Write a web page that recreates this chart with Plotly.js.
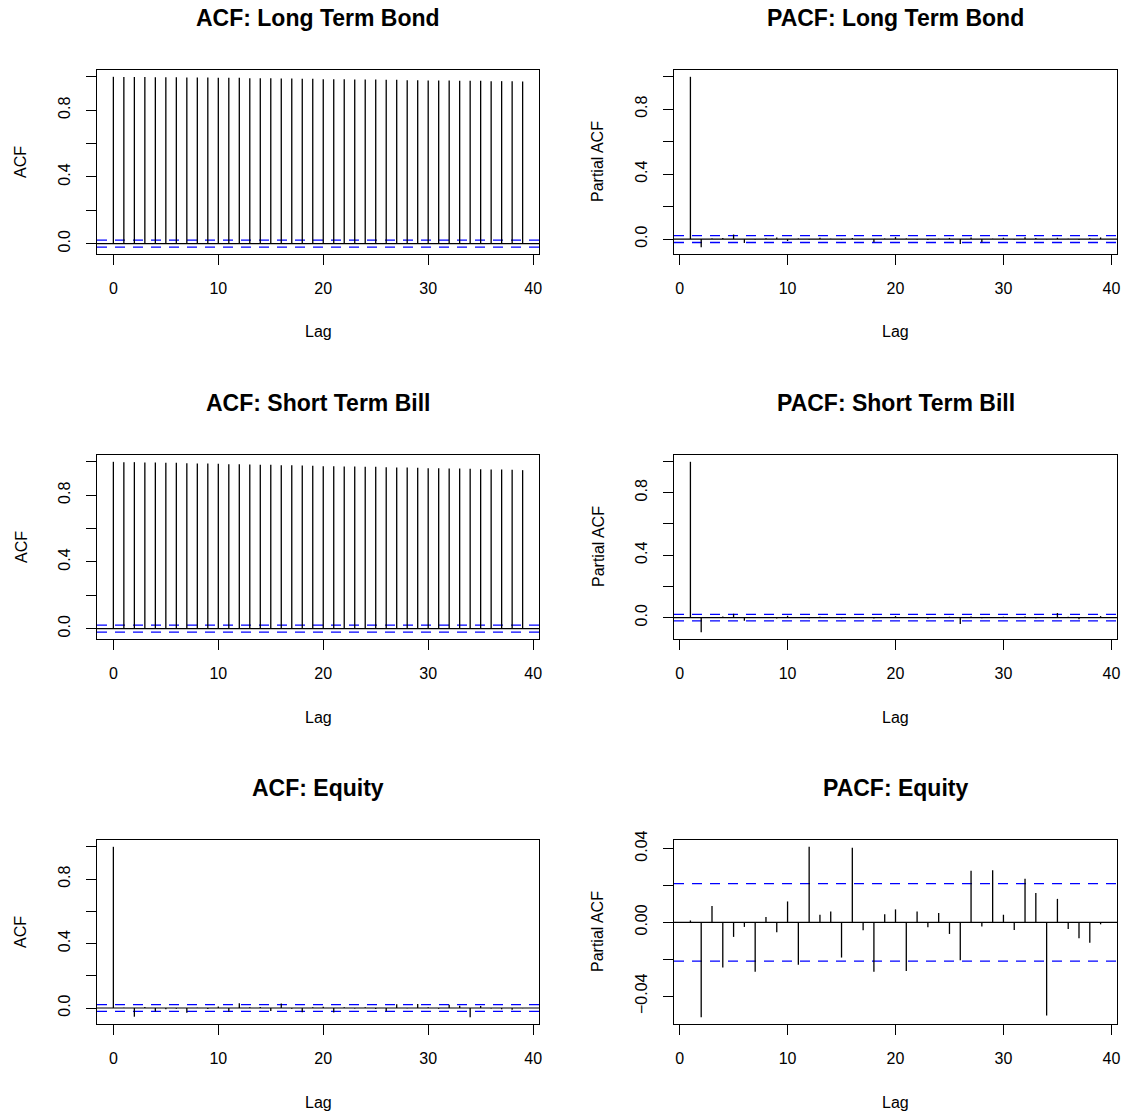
<!DOCTYPE html>
<html>
<head>
<meta charset="utf-8">
<script src="https://cdn.plot.ly/plotly-3.0.1.min.js"></script>
<style>
  html, body { margin: 0; padding: 0; background: #fff; }
  #chart { width: 1128px; height: 1115px; }
</style>
</head>
<body>
<div id="chart"></div>
<script>
// ---------------- DATA ----------------
const panelTitles = [
  "ACF: Long Term Bond", "PACF: Long Term Bond",
  "ACF: Short Term Bill", "PACF: Short Term Bill",
  "ACF: Equity", "PACF: Equity"
];
const yTitles = ["ACF", "Partial ACF", "ACF", "Partial ACF", "ACF", "Partial ACF"];
const xTitle = "Lag";

const acfLags = [0,1,2,3,4,5,6,7,8,9,10,11,12,13,14,15,16,17,18,19,20,21,22,23,24,25,26,27,28,29,30,31,32,33,34,35,36,37,38,39];
const pacfLags = [1,2,3,4,5,6,7,8,9,10,11,12,13,14,15,16,17,18,19,20,21,22,23,24,25,26,27,28,29,30,31,32,33,34,35,36,37,38,39];

const acfLongBond = [1.000,0.999,0.999,0.999,0.998,0.998,0.998,0.996,0.996,0.996,
  0.995,0.994,0.994,0.992,0.992,0.992,0.990,0.990,0.988,0.988,
  0.986,0.986,0.986,0.984,0.984,0.984,0.982,0.982,0.980,0.980,
  0.978,0.978,0.978,0.976,0.976,0.976,0.974,0.974,0.974,0.972];
const pacfLongBond = [0.999,-0.050,0.004,0.006,0.028,-0.024,-0.003,0.005,0.010,-0.012,
  0.003,-0.002,0.008,0.002,-0.004,0.006,0.001,-0.020,0.003,0.012,
  0.004,-0.002,-0.006,0.002,0.007,-0.030,0.010,-0.020,0.002,0.008,
  -0.003,0.011,0.006,-0.002,0.008,0.002,-0.004,0.005,0.010];

const acfShortBill = [1.000,0.998,0.998,0.996,0.996,0.994,0.994,0.992,0.990,0.990,
  0.988,0.986,0.986,0.984,0.982,0.982,0.980,0.980,0.978,0.976,
  0.974,0.974,0.972,0.972,0.970,0.970,0.968,0.966,0.966,0.964,
  0.962,0.962,0.960,0.960,0.958,0.956,0.954,0.954,0.952,0.950];
const pacfShortBill = [0.998,-0.093,0.005,0.008,0.025,-0.020,-0.002,0.004,-0.006,0.012,
  0.004,-0.003,0.006,0.002,-0.004,0.005,0.002,-0.006,0.003,0.010,
  0.004,-0.002,-0.005,0.002,0.006,-0.040,0.008,-0.004,0.003,0.006,
  -0.002,0.007,-0.003,0.004,0.030,0.006,-0.010,0.003,0.010];

const acfEquity = [1.000,0.001,-0.054,0.006,-0.022,-0.008,-0.004,-0.030,0.002,-0.006,
  0.010,-0.022,0.030,0.004,0.006,-0.018,0.028,-0.004,-0.026,0.004,
  0.007,-0.028,0.005,-0.003,0.005,-0.006,-0.020,0.024,-0.002,0.025,
  0.004,-0.004,0.020,0.014,-0.057,0.012,-0.003,-0.008,-0.011,-0.001];
const pacfEquity = [0.001,-0.0514,0.0089,-0.0245,-0.0079,-0.0025,-0.0268,0.0029,-0.0054,0.0113,
  -0.0230,0.0409,0.0041,0.0059,-0.0191,0.0404,-0.0043,-0.0268,0.0043,0.0070,
  -0.0264,0.0059,-0.0027,0.0050,-0.0063,-0.0205,0.0279,-0.0023,0.0282,0.0041,
  -0.0041,0.0236,0.0159,-0.0505,0.0127,-0.0036,-0.0086,-0.0111,-0.0011];

const confLimit = 0.021;

const xTickVals = [0,10,20,30,40];
const yTicksAcf = {vals:[0,0.2,0.4,0.6,0.8,1.0], text:["0.0","","0.4","","0.8",""]};
const yTicksEqPacf = {vals:[-0.04,-0.02,0,0.02,0.04], text:["\u22120.04","","0.00","","0.04"]};

// ---------------- LAYOUT / DRAWING ----------------
const W = 1128, H = 1115;
const colPx = [[97,539],[674,1117]];
const rowTopPx = [70,455,840];
const boxH = 184;
const FONT = "Liberation Sans, Arial, Helvetica, sans-serif";

const panels = [
  {lags: acfLags,  vals: acfLongBond,  yt: yTicksAcf},
  {lags: pacfLags, vals: pacfLongBond, yt: yTicksAcf},
  {lags: acfLags,  vals: acfShortBill, yt: yTicksAcf},
  {lags: pacfLags, vals: pacfShortBill, yt: yTicksAcf},
  {lags: acfLags,  vals: acfEquity,    yt: yTicksAcf},
  {lags: pacfLags, vals: pacfEquity,   yt: yTicksEqPacf}
];

const traces = [];
const annotations = [];
const layout = {
  width: W, height: H,
  margin: {l:0, r:0, t:0, b:0},
  paper_bgcolor: "#fff", plot_bgcolor: "#fff",
  showlegend: false, hovermode: false,
  font: {family: FONT, size: 16, color: "#000"}
};

panels.forEach((p, i) => {
  const row = Math.floor(i / 2), col = i % 2;
  const n = i + 1;
  const xa = n === 1 ? "x" : "x" + n;
  const ya = n === 1 ? "y" : "y" + n;
  const xDom = [colPx[col][0] / W, colPx[col][1] / W];
  const top = rowTopPx[row], bot = top + boxH;
  const yDom = [1 - bot / H, 1 - top / H];

  const lmin = Math.min(...p.lags), lmax = Math.max(...p.lags);
  const lspan = lmax - lmin;
  const xr = [lmin - 0.04 * lspan, lmax + 0.04 * lspan];
  const vmin = Math.min(...p.vals, -confLimit), vmax = Math.max(...p.vals, confLimit);
  const vspan = vmax - vmin;

  // confidence limits (blue dashed) and zero line
  [confLimit, -confLimit].forEach(c => traces.push({x: xr, y: [c, c], xaxis: xa, yaxis: ya,
    type: "scatter", mode: "lines", line: {color: "#0000FF", width: 1.3, dash: "10px,8px"},
    hoverinfo: "skip"}));
  traces.push({x: xr, y: [0, 0], xaxis: xa, yaxis: ya, type: "scatter", mode: "lines",
    line: {color: "#000", width: 1.2}, hoverinfo: "skip"});

  // spikes (type = "h")
  const xs = [], ys = [];
  p.lags.forEach((l, k) => { xs.push(l, l, null); ys.push(0, p.vals[k], null); });
  traces.push({x: xs, y: ys, xaxis: xa, yaxis: ya, type: "scatter", mode: "lines",
    line: {color: "#000", width: 1.3}, hoverinfo: "skip"});

  layout["xaxis" + (n === 1 ? "" : n)] = {
    domain: xDom, anchor: ya, range: xr,
    tickvals: xTickVals, ticks: "outside", ticklen: 10, tickwidth: 1, tickcolor: "#000",
    showline: true, mirror: true, linecolor: "#000", linewidth: 1,
    showgrid: false, zeroline: false, tickfont: {size: 16, family: FONT},
    ticklabelstandoff: 10
  };
  layout["yaxis" + (n === 1 ? "" : n)] = {
    domain: yDom, anchor: xa, range: [vmin - 0.04 * vspan, vmax + 0.04 * vspan],
    tickvals: p.yt.vals, ticktext: p.yt.text, tickangle: -90,
    ticks: "outside", ticklen: 10, tickwidth: 1, tickcolor: "#000",
    showline: true, mirror: true, linecolor: "#000", linewidth: 1,
    showgrid: false, zeroline: false, tickfont: {size: 16, family: FONT},
    ticklabelstandoff: 10
  };

  const cx = (xDom[0] + xDom[1]) / 2;
  annotations.push({text: "<b>" + panelTitles[i] + "</b>", xref: "paper", yref: "paper",
    x: cx, y: 1 - (top - 52) / H, xanchor: "center", yanchor: "middle", showarrow: false,
    font: {size: 23, family: FONT, color: "#000"}});
  annotations.push({text: xTitle, xref: "paper", yref: "paper",
    x: cx, y: 1 - (bot + 78) / H, xanchor: "center", yanchor: "middle", showarrow: false,
    font: {size: 16, family: FONT, color: "#000"}});
  annotations.push({text: yTitles[i], xref: "paper", yref: "paper", textangle: -90,
    x: (colPx[col][0] - 76) / W, y: (yDom[0] + yDom[1]) / 2, xanchor: "center", yanchor: "middle",
    showarrow: false, font: {size: 16, family: FONT, color: "#000"}});
});

layout.annotations = annotations;

Plotly.newPlot("chart", traces, layout, {staticPlot: true, displayModeBar: false});
</script>
</body>
</html>
